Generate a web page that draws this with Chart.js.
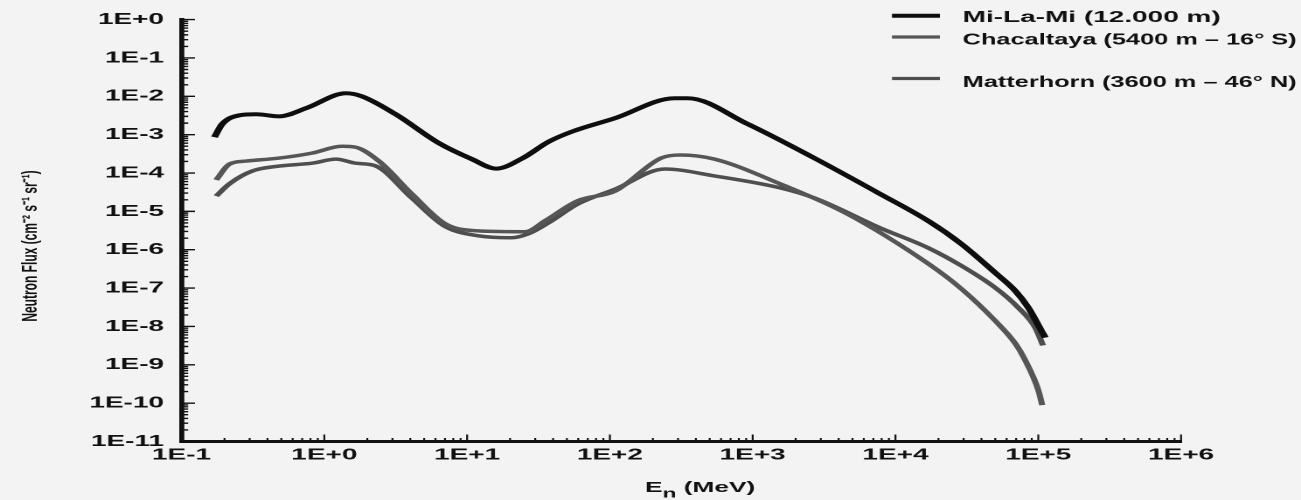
<!DOCTYPE html>
<html>
<head>
<meta charset="utf-8">
<title>Neutron flux spectra</title>
<script src="https://cdn.jsdelivr.net/npm/chart.js@4"></script>
<style>
    html, body { margin: 0; padding: 0; background: #f3f3f3; overflow: hidden; }
    /* the source figure is stretched sideways, so the whole chart is too */
    #wrap { width: 744px; height: 500px; transform: scaleX(1.74866); transform-origin: 0 0; }
</style>
</head>
<body>
<div id="wrap"><canvas id="chart" width="744" height="500"></canvas></div>
<script>
// Data (energy in MeV, flux in cm-2 s-1 sr-1)
const seriesNames = ['Mi-La-Mi (12.000 m)', 'Chacaltaya (5400 m \u2013 16\u00b0 S)', 'Matterhorn (3600 m \u2013 46\u00b0 N)']
const seriesColors = ['#0e0e0e', '#565656', '#4e4e4e']

const miLaMiEnergy = [0.17, 0.193, 0.254, 0.333, 0.483, 0.745, 1.42, 1.83, 3.16, 6.4, 10.8, 16.0, 24.3, 37.4, 54.2, 109, 284, 351, 920, 2700, 7800, 17000, 29000, 50000, 69000, 85100, 105000, 112000]
const miLaMiFlux = [8.6e-4, 1.9e-3, 3.2e-3, 3.4e-3, 3.0e-3, 4.9e-3, 1.2e-2, 1.0e-2, 3.4e-3, 5.9e-4, 2.3e-4, 1.3e-4, 2.4e-4, 6.6e-4, 1.2e-3, 2.7e-3, 8.9e-3, 8.9e-3, 1.9e-3, 2.45e-4, 2.85e-5, 5.6e-6, 1.41e-6, 2.5e-7, 8.5e-8, 3.1e-8, 7.8e-9, 5.1e-9]

const chacaltayaEnergy = [0.175, 0.216, 0.284, 0.483, 0.82, 1.33, 1.66, 2.41, 4.1, 7.06, 12.0, 25.6, 35.2, 59.8, 109, 228, 313, 541, 1560, 4590, 17000, 29000, 50000, 69000, 81100, 100000, 106600]
const chacaltayaFlux = [6.6e-5, 1.7e-4, 2.05e-4, 2.45e-4, 3.3e-4, 5.0e-4, 4.7e-4, 2.05e-4, 2.85e-5, 4.7e-6, 3.1e-6, 2.95e-6, 5.7e-6, 1.9e-5, 3.4e-5, 2.45e-4, 2.95e-4, 2.3e-4, 5.2e-5, 8.6e-6, 4.3e-7, 9.5e-8, 1.4e-8, 3.6e-9, 1.3e-9, 2.2e-10, 8.9e-11]

const matterhornEnergy = [0.175, 0.216, 0.313, 0.483, 0.82, 1.21, 1.66, 2.3, 4.1, 7.06, 12.0, 20.4, 26.8, 37, 59.8, 109, 243, 541, 1560, 2700, 7800, 17000, 29000, 50000, 72400, 95300, 108000]
const matterhornFlux = [2.5e-5, 5.2e-5, 1.13e-4, 1.52e-4, 1.8e-4, 2.3e-4, 1.8e-4, 1.52e-4, 2.24e-5, 4.0e-6, 2.3e-6, 2.05e-6, 2.6e-6, 5.0e-6, 1.57e-5, 3.8e-5, 1.27e-4, 8.4e-5, 4.1e-5, 2.24e-5, 3.7e-6, 1.11e-6, 3.8e-7, 1.02e-7, 3.1e-8, 9.3e-9, 3.2e-9]

const xTickValues = [1e-1, 1e0, 1e1, 1e2, 1e3, 1e4, 1e5, 1e6]
const xTickLabels = ['1E-1', '1E+0', '1E+1', '1E+2', '1E+3', '1E+4', '1E+5', '1E+6']
const yTickValues = [1e-11, 1e-10, 1e-9, 1e-8, 1e-7, 1e-6, 1e-5, 1e-4, 1e-3, 1e-2, 1e-1, 1e0]
const yTickLabels = ['1E-11', '1E-10', '1E-9', '1E-8', '1E-7', '1E-6', '1E-5', '1E-4', '1E-3', '1E-2', '1E-1', '1E+0']

const yTitle = 'Neutron Flux (cm\u207b\u00b2 s\u207b\u00b9 sr\u207b\u00b9)'
const FONT = "'Liberation Sans', Arial, sans-serif"

function toPoints(xs, ys) {
    return xs.map((x, i) => ({ x: x, y: ys[i] }))
}

// 2..9 inside each decade
function minorValues(majors) {
    const out = []
    majors.forEach((v, i) => {
        if (i === majors.length - 1) return
        for (let m = 2; m < 10; m++) out.push(v * m)
    })
    return out
}

// tick marks point into the plot, like the original
const insideTicks = {
    id: 'insideTicks',
    afterDraw(chart) {
        const { ctx, chartArea: a, scales: { x, y } } = chart
        ctx.save()
        ctx.strokeStyle = '#111'
        ctx.lineWidth = 1.4
        ctx.beginPath()
        yTickValues.forEach(v => {
            const p = y.getPixelForValue(v)
            ctx.moveTo(a.left, p); ctx.lineTo(a.left + 7.7, p)
        })
        minorValues(yTickValues).forEach(v => {
            const p = y.getPixelForValue(v)
            ctx.moveTo(a.left, p); ctx.lineTo(a.left + 3.8, p)
        })
        ctx.stroke()
        ctx.lineWidth = 1.1
        ctx.beginPath()
        xTickValues.forEach(v => {
            const p = x.getPixelForValue(v)
            ctx.moveTo(p, a.bottom); ctx.lineTo(p, a.bottom - 7)
        })
        minorValues(xTickValues).forEach(v => {
            const p = x.getPixelForValue(v)
            ctx.moveTo(p, a.bottom); ctx.lineTo(p, a.bottom - 3.5)
        })
        ctx.stroke()
        ctx.restore()
    }
}

// legend at the top right, uneven row gaps as in the figure
const sideLegend = {
    id: 'sideLegend',
    afterDraw(chart) {
        const ctx = chart.ctx
        const rows = [{ line: 15.7, text: 17.5 }, { line: 37, text: 40 }, { line: 78.5, text: 82.5 }]
        ctx.save()
        ctx.font = 'bold 16px ' + FONT
        ctx.textBaseline = 'middle'
        ctx.lineCap = 'butt'
        chart.data.datasets.forEach((ds, i) => {
            ctx.strokeStyle = ds.borderColor
            ctx.lineWidth = i === 0 ? 4 : 3.3
            ctx.beginPath()
            ctx.moveTo(510.1, rows[i].line)
            ctx.lineTo(537.5, rows[i].line)
            ctx.stroke()
            ctx.fillStyle = '#111'
            ctx.fillText(ds.label, 550.5, rows[i].text, 191)
        })
        ctx.restore()
    }
}

const axisTitles = {
    id: 'axisTitles',
    afterDraw(chart) {
        const ctx = chart.ctx
        ctx.save()
        ctx.fillStyle = '#111'
        ctx.textBaseline = 'middle'
        // x title: E with subscript n
        let x = 368.9
        ctx.font = 'bold 15px ' + FONT
        ctx.fillText('E', x, 488)
        x += ctx.measureText('E').width
        ctx.font = 'bold 13px ' + FONT
        ctx.fillText('n', x, 494)
        x += ctx.measureText('n').width
        ctx.font = 'bold 15px ' + FONT
        ctx.fillText(' (MeV)', x, 488)
        // y title, rotated
        ctx.translate(17.7, 246)
        ctx.rotate(-Math.PI / 2)
        ctx.textAlign = 'center'
        ctx.font = 'bold 12px ' + FONT
        ctx.fillText(yTitle, 0, 0)
        ctx.restore()
    }
}

const datasets = [
    { data: toPoints(miLaMiEnergy, miLaMiFlux), borderWidth: 4 },
    { data: toPoints(chacaltayaEnergy, chacaltayaFlux), borderWidth: 3.5 },
    { data: toPoints(matterhornEnergy, matterhornFlux), borderWidth: 3.5 }
].map((d, i) => Object.assign(d, {
    label: seriesNames[i],
    borderColor: seriesColors[i],
    backgroundColor: seriesColors[i],
    pointRadius: 0,
    fill: false,
    cubicInterpolationMode: 'monotone',
    borderCapStyle: 'butt',
    borderJoinStyle: 'round'
}))

Chart.defaults.font.family = FONT
Chart.defaults.color = '#111'

new Chart(document.getElementById('chart'), {
    type: 'line',
    data: { datasets: datasets },
    options: {
        responsive: false,
        devicePixelRatio: 2,
        animation: false,
        layout: { padding: { top: 17.5, right: 68.6, bottom: 0, left: 0 } },
        plugins: { legend: { display: false }, tooltip: { enabled: false } },
        scales: {
            x: {
                type: 'logarithmic',
                min: 1e-1,
                max: 1e6,
                grid: { display: false, drawTicks: false },
                border: { display: true, color: '#111', width: 3 },
                afterBuildTicks: scale => { scale.ticks = xTickValues.map(v => ({ value: v })) },
                afterFit: scale => { scale.height = 58.5 },
                ticks: {
                    autoSkip: false,
                    maxRotation: 0,
                    padding: 4,
                    font: { size: 16, weight: 'bold' },
                    callback: (v, i) => xTickLabels[i]
                }
            },
            y: {
                type: 'logarithmic',
                min: 1e-11,
                max: 1,
                grid: { display: false, drawTicks: false },
                border: { display: true, color: '#111', width: 2.9 },
                afterBuildTicks: scale => { scale.ticks = yTickValues.map(v => ({ value: v })) },
                afterFit: scale => { scale.width = 103.8 },
                ticks: {
                    autoSkip: false,
                    padding: 10,
                    font: { size: 16, weight: 'bold' },
                    callback: (v, i) => yTickLabels[i]
                }
            }
        }
    },
    plugins: [insideTicks, sideLegend, axisTitles]
})
</script>
</body>
</html>
